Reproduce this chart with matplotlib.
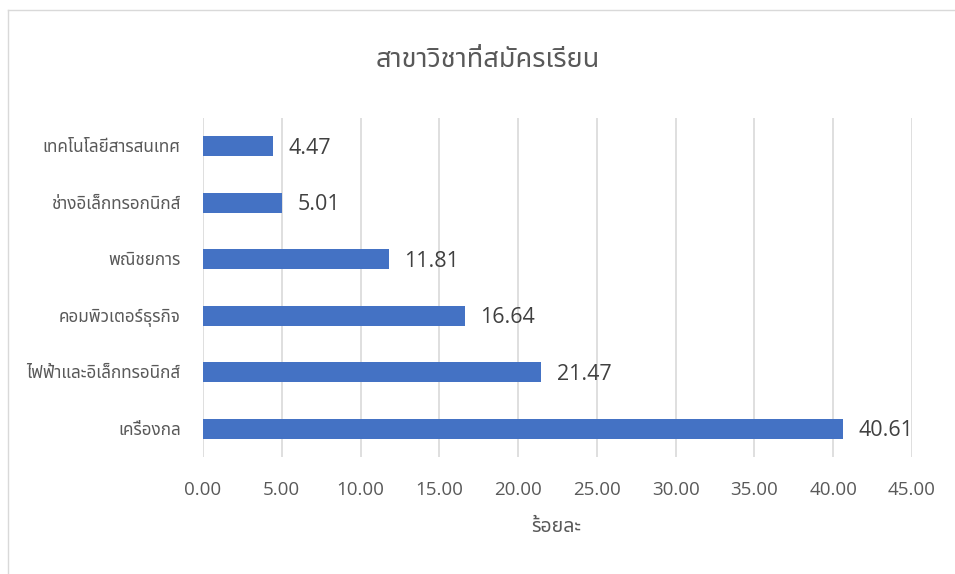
import matplotlib
matplotlib.use("Agg")
import matplotlib.pyplot as plt
from matplotlib.lines import Line2D

categories = ["เครื่องกล", "ไฟฟ้าและอิเล็กทรอนิกส์", "คอมพิวเตอร์ธุรกิจ", "พณิชยการ",
              "ช่างอิเล็กทรอกนิกส์", "เทคโนโลยีสารสนเทศ"]
values = [40.61, 21.47, 16.64, 11.81, 5.01, 4.47]
xticks = [0, 5, 10, 15, 20, 25, 30, 35, 40, 45]
title = "สาขาวิชาที่สมัครเรียน"
xlabel = "ร้อยละ"

plt.rcParams['font.family'] = ['Open Sans', 'Noto Sans Thai', 'DejaVu Sans']
thai = ['Noto Sans Thai', 'DejaVu Sans']

W, H = 955, 574
fig = plt.figure(figsize=(W / 100, H / 100), dpi=100)
ax = fig.add_axes([203 / W, 1 - 457 / H, (912 - 203) / W, (457 - 118) / H])

y = list(range(len(categories)))
ax.barh(y, values, height=0.36, color="#4472C4", zorder=3)
ax.set_ylim(-0.5, len(categories) - 0.5)
ax.set_xlim(0, 45)
ax.set_xticks(xticks)
ax.set_xticklabels([f"{v:.2f}" for v in xticks], fontsize=13.5, color="#595959")
ax.set_yticks(y)
ax.set_yticklabels(categories, fontsize=12.3, color="#595959", family=thai,
                   fontweight='light')
ax.tick_params(axis='both', length=0)
ax.tick_params(axis='x', pad=17)
ax.tick_params(axis='y', pad=16)
ax.grid(axis='x', color="#d9d9d9", linewidth=1.2, zorder=0)
for s in ax.spines.values():
    s.set_visible(False)

for yi, v in zip(y, values):
    ax.annotate(f"{v:.2f}", (v, yi), xytext=(11, -1.5), textcoords="offset points",
                va="center", ha="left", fontsize=15.5, color="#404040")

fig.text(488 / W, 1 - 60 / H, title, ha="center", va="center", fontsize=19.5,
         color="#595959", family=thai, fontweight='light')
fig.text(556 / W, 1 - 527 / H, xlabel, ha="center", va="center", fontsize=14,
         color="#595959", family=thai, fontweight='light')

fig.add_artist(Line2D([8 / W, 8 / W], [0, 1 - 10 / H], transform=fig.transFigure,
                      color="#d9d9d9", linewidth=1))
fig.add_artist(Line2D([8 / W, 1], [1 - 10 / H, 1 - 10 / H], transform=fig.transFigure,
                      color="#d9d9d9", linewidth=1))

fig.savefig("out.png", dpi=100)
